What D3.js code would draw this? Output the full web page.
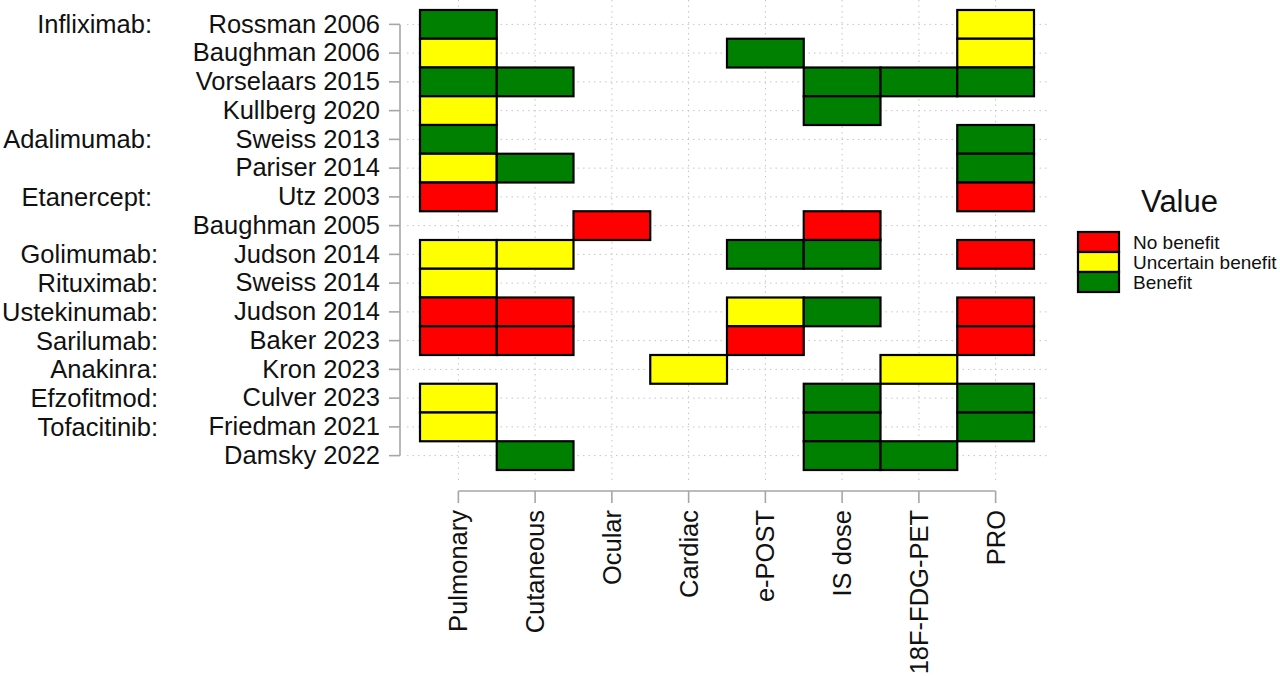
<!DOCTYPE html>
<html>
<head>
<meta charset="utf-8">
<script src="https://cdn.jsdelivr.net/npm/d3@7"></script>
<style>
  html, body { margin: 0; padding: 0; background: #fff; }
  svg { display: block; font-family: "Liberation Sans", Arial, sans-serif; }
</style>
</head>
<body>
<div id="chart"></div>
<script>
// outcome columns
const outcomes = ["Pulmonary", "Cutaneous", "Ocular", "Cardiac", "e-POST", "IS dose", "18F-FDG-PET", "PRO"];

// study rows, top to bottom
const studies = [
  "Rossman 2006", "Baughman 2006", "Vorselaars 2015", "Kullberg 2020",
  "Sweiss 2013", "Pariser 2014", "Utz 2003", "Baughman 2005",
  "Judson 2014", "Sweiss 2014", "Judson 2014", "Baker 2023",
  "Kron 2023", "Culver 2023", "Friedman 2021", "Damsky 2022"
];

// drug label shown in front of a study ("" = none)
const drugs = [
  "Infliximab:", "", "", "",
  "Adalimumab:", "", "Etanercept:", "",
  "Golimumab:", "Rituximab:", "Ustekinumab:", "Sarilumab:",
  "Anakinra:", "Efzofitmod:", "Tofacitinib:", ""
];

// one letter per outcome: R = no benefit, Y = uncertain, G = benefit, . = not reported
const ratings = [
  "G......Y",
  "Y...G..Y",
  "GG...GGG",
  "Y....G..",
  "G......G",
  "YG.....G",
  "R......R",
  "..R..R..",
  "YY..GG.R",
  "Y.......",
  "RR..YG.R",
  "RR..R..R",
  "...Y..Y.",
  "Y....G.G",
  "Y....G.G",
  ".G...GG."
];

const levels = ["No benefit", "Uncertain benefit", "Benefit"];
const levelCodes = ["R", "Y", "G"];
const levelColors = ["#ff0000", "#ffff00", "#008000"];

const width = 1280;
const height = 676;

const svg = d3.select("#chart")
  .append("svg")
  .attr("width", width)
  .attr("height", height);

const rowIds = d3.range(studies.length);

const x = d3.scaleBand()
  .domain(outcomes)
  .range([420, 1034])
  .padding(0);

const y = d3.scaleBand()
  .domain(rowIds)
  .range([10, 470])
  .padding(0);

const color = d3.scaleOrdinal()
  .domain(levelCodes)
  .range(levelColors);

const xc = d => x(d) + x.bandwidth() / 2;
const yc = d => y(d) + y.bandwidth() / 2;

// flatten to cells
const cells = [];
ratings.forEach((row, i) => {
  row.split("").forEach((code, j) => {
    if (code !== ".") cells.push({ row: i, outcome: outcomes[j], code });
  });
});

// --- dotted grid ---
const grid = svg.append("g").attr("class", "grid")
  .attr("stroke", "#c4c4c4")
  .attr("stroke-width", 1)
  .attr("stroke-dasharray", "1.5,4");

grid.selectAll("line.v")
  .data(outcomes)
  .join("line")
  .attr("class", "v")
  .attr("x1", d => xc(d)).attr("x2", d => xc(d))
  .attr("y1", 0).attr("y2", 484);

grid.selectAll("line.h")
  .data(rowIds)
  .join("line")
  .attr("class", "h")
  .attr("x1", 407).attr("x2", 1050)
  .attr("y1", d => yc(d)).attr("y2", d => yc(d));

// --- tiles ---
svg.append("g")
  .attr("class", "tiles")
  .selectAll("rect")
  .data(cells)
  .join("rect")
  .attr("x", d => x(d.outcome))
  .attr("y", d => y(d.row))
  .attr("width", x.bandwidth())
  .attr("height", y.bandwidth())
  .attr("fill", d => color(d.code))
  .attr("stroke", "#000")
  .attr("stroke-width", 2.2);

// --- left axis (range frame) ---
const yAxis = svg.append("g")
  .attr("transform", "translate(400,0)")
  .call(d3.axisLeft(y).tickSize(11).tickPadding(9).tickFormat(i => studies[i]));

yAxis.select(".domain").remove();
yAxis.selectAll(".tick line").attr("stroke", "#a6a6a6").attr("stroke-width", 1.6);
yAxis.selectAll(".tick text")
  .attr("fill", "#111")
  .style("font-size", "25.5px")
  .style("font-family", "'Liberation Sans', Arial, sans-serif");
yAxis.append("line")
  .attr("x1", 0).attr("x2", 0)
  .attr("y1", yc(rowIds[0])).attr("y2", yc(rowIds[rowIds.length - 1]))
  .attr("stroke", "#a6a6a6").attr("stroke-width", 1.6);

// drug names
svg.append("g")
  .attr("class", "drugs")
  .selectAll("text")
  .data(rowIds.filter(i => drugs[i] !== ""))
  .join("text")
  .attr("x", i => i < 8 ? 152 : 158)
  .attr("y", i => yc(i))
  .attr("dy", "0.35em")
  .attr("text-anchor", "end")
  .attr("fill", "#111")
  .style("font-size", "25.5px")
  .text(i => drugs[i]);

// --- bottom axis (range frame) ---
const xAxis = svg.append("g")
  .attr("transform", "translate(0,491)")
  .call(d3.axisBottom(x).tickSize(12));

xAxis.select(".domain").remove();
xAxis.selectAll(".tick line").attr("stroke", "#a6a6a6").attr("stroke-width", 1.6);
xAxis.selectAll(".tick text")
  .attr("fill", "#111")
  .attr("transform", "rotate(-90)")
  .attr("text-anchor", "end")
  .attr("x", -19)
  .attr("y", 0)
  .attr("dy", "0.35em")
  .style("font-size", "25.5px")
  .style("font-family", "'Liberation Sans', Arial, sans-serif");
xAxis.append("line")
  .attr("x1", xc(outcomes[0])).attr("x2", xc(outcomes[outcomes.length - 1]))
  .attr("y1", 0).attr("y2", 0)
  .attr("stroke", "#a6a6a6").attr("stroke-width", 1.6);

// --- legend ---
const legend = svg.append("g").attr("transform", "translate(1078,232)");

legend.append("text")
  .attr("x", 63)
  .attr("y", -20)
  .attr("fill", "#111")
  .style("font-size", "31px")
  .text("Value");

const keyH = 20;
const item = legend.selectAll("g.item")
  .data(levels)
  .join("g")
  .attr("class", "item")
  .attr("transform", (d, i) => `translate(0,${i * keyH})`);

item.append("rect")
  .attr("width", 41)
  .attr("height", keyH)
  .attr("fill", (d, i) => levelColors[i])
  .attr("stroke", "#000")
  .attr("stroke-width", 2.2);

item.append("text")
  .attr("x", 55)
  .attr("y", keyH / 2)
  .attr("dy", "0.35em")
  .attr("fill", "#111")
  .style("font-size", "19px")
  .text(d => d);
</script>
</body>
</html>
